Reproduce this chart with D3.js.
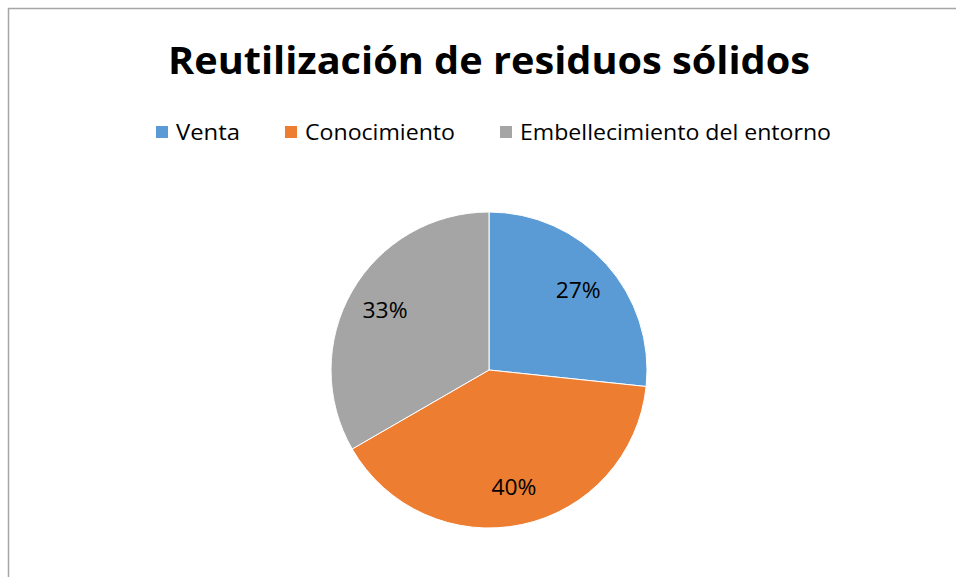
<!DOCTYPE html>
<html><head><meta charset="utf-8">
<script src="https://cdn.jsdelivr.net/npm/d3@7"></script>
<style>html,body{margin:0;padding:0;background:#fff;}svg{display:block;}</style>
</head><body>
<svg id="c" width="956" height="577"></svg>
<script>
const title = "Reutilización de residuos sólidos";
const categories = ["Venta", "Conocimiento", "Embellecimiento del entorno"];
const values = [8, 12, 10];
const colors = ["#5B9BD5", "#ED7D31", "#A5A5A5"];

const W = 956, H = 577;
const svg = d3.select("#c");
const font = "'Open Sans', 'Noto Sans', sans-serif";

// chart frame (cropped at right and bottom)
svg.append("rect").attr("x", 8.5).attr("y", 8.5).attr("width", W + 20).attr("height", H + 20)
  .attr("fill", "#fff").attr("stroke", "#A6A6A6").attr("stroke-width", 1.5);

// title, horizontally condensed like Calibri
svg.append("text").text(title).attr("font-family", font).attr("font-weight", "bold")
  .attr("font-size", 37.5).attr("fill", "#000").attr("text-anchor", "middle")
  .attr("x", 489).attr("y", 74)
  .attr("textLength", 642).attr("lengthAdjust", "spacingAndGlyphs");

// legend
const legWidths = [64, 150, 311];
const legFs = 21.5;
const legGap = 45;
const sq = 12;
let x = 156;
categories.forEach((c, i) => {
  const g = svg.append("g").attr("transform", `translate(${x},126)`);
  g.append("rect").attr("width", sq).attr("height", sq).attr("fill", colors[i]);
  g.append("text").text(c).attr("font-family", font).attr("font-size", legFs)
    .attr("fill", "#000").attr("x", 20).attr("y", 13.5)
    .attr("textLength", legWidths[i]).attr("lengthAdjust", "spacingAndGlyphs");
  x += 20 + legWidths[i] + legGap;
});

// pie
const cx = 489, cy = 370, r = 158;
const pie = d3.pie().sort(null).value(d => d)(values);
const arc = d3.arc().innerRadius(0).outerRadius(r);
const labelArc = d3.arc().innerRadius(r * 0.76).outerRadius(r * 0.76);
const total = d3.sum(values);
const g = svg.append("g").attr("transform", `translate(${cx},${cy})`);
g.selectAll("path").data(pie).join("path").attr("d", arc).attr("fill", (d, i) => colors[i])
  .attr("stroke", "#fff").attr("stroke-width", 1);
g.selectAll("text").data(pie).join("text")
  .attr("transform", d => `translate(${labelArc.centroid(d)})`)
  .attr("text-anchor", "middle").attr("dominant-baseline", "central")
  .attr("font-family", font).attr("font-size", 21).attr("fill", "#000")
  .attr("textLength", 45).attr("lengthAdjust", "spacingAndGlyphs")
  .text(d => d3.format(".0%")(d.data / total));
</script>
</body></html>
